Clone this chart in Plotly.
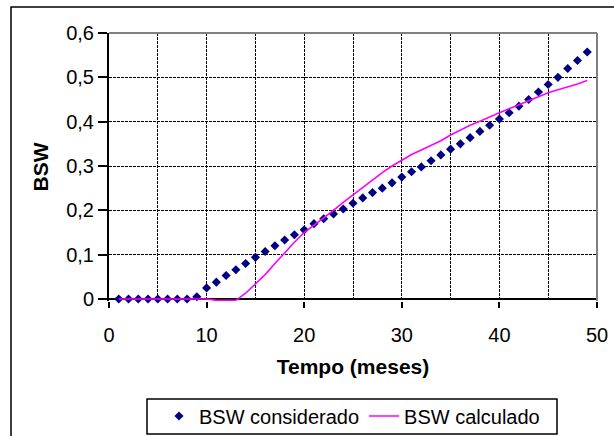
import plotly.graph_objects as go

# Data
tempo = list(range(1, 50))
bsw_considerado = [0, 0, 0, 0, 0, 0, 0, 0, 0.005, 0.025,
                   0.038, 0.053, 0.066, 0.080, 0.094, 0.107, 0.120, 0.133, 0.145, 0.156,
                   0.170, 0.181, 0.192, 0.203, 0.216, 0.228, 0.240, 0.250, 0.262, 0.275,
                   0.287, 0.298, 0.312, 0.325, 0.338, 0.350, 0.364, 0.378, 0.392, 0.406,
                   0.420, 0.435, 0.450, 0.467, 0.484, 0.500, 0.520, 0.538, 0.557]
bsw_calculado = [0, 0, 0, 0, 0, 0, 0, 0, 0, 0,
                 -0.003, -0.003, -0.003, 0.013, 0.035, 0.055, 0.080, 0.105, 0.128, 0.150,
                 0.166, 0.182, 0.200, 0.218, 0.235, 0.252, 0.268, 0.285, 0.300, 0.314,
                 0.326, 0.336, 0.346, 0.357, 0.370, 0.381, 0.392, 0.401, 0.411, 0.420,
                 0.429, 0.438, 0.447, 0.456, 0.465, 0.472, 0.478, 0.485, 0.493]
x_ticks = [0, 10, 20, 30, 40, 50]
y_ticks = [0, 0.1, 0.2, 0.3, 0.4, 0.5, 0.6]
y_ticktext = ["0", "0,1", "0,2", "0,3", "0,4", "0,5", "0,6"]

FONT = "Liberation Sans, Arial, sans-serif"
GRID_DASH = "3px,1px"

fig = go.Figure()
fig.add_trace(go.Scatter(
    x=tempo, y=bsw_considerado, mode="markers", name="BSW considerado",
    marker=dict(symbol="diamond", size=7, color="#000080"),
    cliponaxis=False,
))
fig.add_trace(go.Scatter(
    x=tempo, y=bsw_calculado, mode="lines", name="BSW calculado",
    line=dict(color="#FF00FF", width=1.6),
    cliponaxis=False,
))

L, R, T, B = 109, 17, 33, 135
W, H = 614, 436
pw, ph = W - L - R, H - T - B

def px(x):
    return (x - L) / pw

def py(y):
    return (H - B - y) / ph

fig.update_layout(
    width=W, height=H,
    margin=dict(l=L, r=R, t=T, b=B, autoexpand=False),
    paper_bgcolor="white", plot_bgcolor="white",
    font=dict(family=FONT, size=20, color="black"),
    showlegend=True,
    legend=dict(
        orientation="h", x=px(352), xanchor="center", y=py(416), yanchor="middle",
        borderwidth=0, bgcolor="rgba(0,0,0,0)",
        font=dict(family=FONT, size=20, color="black"),
        itemwidth=30, tracegroupgap=0,
    ),
    xaxis=dict(
        range=[0, 50], tickvals=x_ticks, ticks="outside", ticklen=6, tickwidth=2,
        tickcolor="black", showline=False,
        showgrid=True, gridcolor="black", gridwidth=1.2, griddash=GRID_DASH,
        minor=dict(dtick=5, showgrid=True, gridcolor="black", gridwidth=1.2, griddash=GRID_DASH),
        zeroline=False, ticklabelstandoff=10,
        title=dict(text="<b>Tempo (meses)</b>", font=dict(size=21), standoff=14),
    ),
    yaxis=dict(
        range=[-0.0045, 0.6], tickvals=y_ticks, ticktext=y_ticktext,
        ticks="outside", ticklen=9, tickwidth=2,
        tickcolor="black", showline=True, linecolor="black", linewidth=2,
        showgrid=True, gridcolor="black", gridwidth=1.2, griddash=GRID_DASH,
        zeroline=True, zerolinecolor="black", zerolinewidth=2,
        title=dict(text="<b>BSW</b>", font=dict(size=21), standoff=12),
    ),
    shapes=[
        dict(type="line", xref="paper", yref="paper", x0=0, x1=1, y0=1, y1=1,
             line=dict(color="#808080", width=2)),
        dict(type="line", xref="paper", yref="paper", x0=1, x1=1, y0=0, y1=1,
             line=dict(color="#808080", width=2)),
        dict(type="rect", xref="paper", yref="paper",
             x0=px(11), x1=px(630), y0=py(450), y1=py(7),
             line=dict(color="black", width=1.5), layer="below"),
        dict(type="rect", xref="paper", yref="paper",
             x0=px(147), x1=px(557), y0=py(434), y1=py(399),
             line=dict(color="black", width=1.5), layer="below"),
    ],
)

fig.write_html("out.html")
